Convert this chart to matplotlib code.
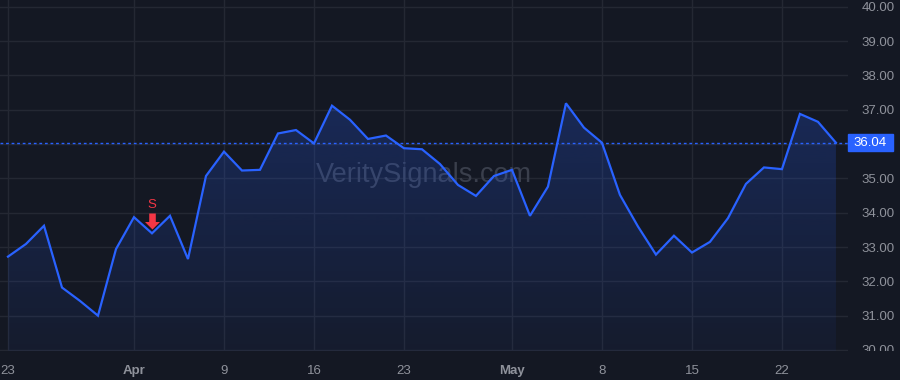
import numpy as np
import pandas as pd
import matplotlib
matplotlib.use("Agg")
import matplotlib.pyplot as plt
from matplotlib.path import Path
import matplotlib.transforms as mtransforms

# daily closes, 23 Mar -> 28 May (trading days)
prices = [32.72, 33.09, 33.62, 31.82, 31.43, 31.00, 32.94, 33.87, 33.40, 33.91,
          32.65, 35.07, 35.78, 35.23, 35.25, 36.31, 36.41, 36.02, 37.12, 36.71,
          36.15, 36.25, 35.88, 35.85, 35.42, 34.81, 34.49, 35.07, 35.25, 33.91,
          34.76, 37.19, 36.48, 36.04, 34.52, 33.60, 32.78, 33.33, 32.84, 33.15,
          33.84, 34.84, 35.32, 35.27, 36.88, 36.65, 36.04]
holidays = ["2026-04-03", "2026-05-25"]
dates = pd.bdate_range("2026-03-23", "2026-05-29")
dates = dates[~dates.isin(pd.to_datetime(holidays))][:len(prices)]

tick_dates = ["2026-03-23", "2026-04-01", "2026-04-09", "2026-04-16", "2026-04-23",
              "2026-05-01", "2026-05-08", "2026-05-15", "2026-05-22"]
tick_labels = ["23", "Apr", "9", "16", "23", "May", "8", "15", "22"]
bold_labels = ["Apr", "May"]
price_ticks = [30, 31, 32, 33, 34, 35, 36, 37, 38, 39, 40]
signal_date = "2026-04-02"
signal_text = "S"
last_price = prices[-1]

BG = "#141823"
GRID = "#242833"
BLUE = "#2962ff"
RED = "#f23645"
TXT = "#8f929b"

plt.rcParams["font.family"] = ["Liberation Sans", "DejaVu Sans"]

x = np.arange(len(prices))
pos = {d: i for i, d in enumerate(dates.strftime("%Y-%m-%d"))}

fig = plt.figure(figsize=(9, 3.8), dpi=100, facecolor=BG)
ax = fig.add_axes([0, 29 / 380, 848 / 900, 351 / 380], facecolor=BG)

ax.set_xlim(-0.444, 46.67)
ax.set_ylim(29.97, 40.2)

# watermark
ax.text(0.5, 0.5, "VeritySignals.com", transform=ax.transAxes, ha="center",
        va="center", fontsize=19.5, color="#3a3f4c", zorder=1)

# gradient area under the line
poly = ax.fill_between(x, prices, 29.97, color="none", lw=0)
grad = np.linspace(0.05, 0.24, 256).reshape(-1, 1)
rgba = np.zeros((256, 1, 4))
rgba[..., 0] = 41 / 255
rgba[..., 1] = 98 / 255
rgba[..., 2] = 1.0
rgba[..., 3] = grad
img = ax.imshow(rgba, extent=[x[0], x[-1], 29.97, 37.3], origin="lower",
                aspect="auto", zorder=2)
img.set_clip_path(poly.get_paths()[0], transform=ax.transData)

ax.plot(x, prices, color=BLUE, lw=1.6, zorder=4, solid_joinstyle="miter")
ax.axhline(last_price, color=BLUE, lw=1, ls=(0, (2, 2)), zorder=3)

# sell signal arrow
arrow = Path([(0, 4), (-7.5, 11.5), (-3.3, 11.5), (-3.3, 20), (3.3, 20),
              (3.3, 11.5), (7.5, 11.5), (0, 4)],
             [Path.MOVETO] + [Path.LINETO] * 6 + [Path.CLOSEPOLY])
si = pos[signal_date]
ax.plot([si], [prices[si]], marker=arrow, ms=28.8, color=RED, mec="none",
        ls="none", zorder=5)
ax.annotate(signal_text, (si, prices[si]), xytext=(0, 28 * 0.72),
            textcoords="offset points", ha="center", va="center",
            color=RED, fontsize=9.5, zorder=5)

# axes styling
for s in ax.spines.values():
    s.set_visible(False)
ax.set_xticks([pos[d] for d in tick_dates])
ax.set_xticklabels(tick_labels)
for lab in ax.get_xticklabels():
    if lab.get_text() in bold_labels:
        lab.set_fontweight("bold")
ax.set_yticks(price_ticks)
# the 36.00 label sits under the last-price tag
ax.set_yticklabels(["" if abs(p - last_price) < 0.3 else f"{p:.2f}"
                    for p in price_ticks])
ax.yaxis.tick_right()
ax.tick_params(axis="both", length=0, colors=TXT, labelsize=9.5)
ax.tick_params(axis="x", pad=10)
ax.tick_params(axis="y", pad=10)
ax.grid(True, color=GRID, lw=1)
ax.set_axisbelow(True)

# last price label
trans = mtransforms.blended_transform_factory(ax.transAxes, ax.transData)
ax.add_patch(plt.Rectangle((1.0, last_price - 0.245), 45 / 848, 0.49,
                           transform=trans, color=BLUE, clip_on=False, zorder=6))
ax.text(1.0 + 22.5 / 848, last_price, f"{last_price:.2f}", transform=trans,
        ha="center", va="center", color="white", fontsize=9.5, zorder=7,
        clip_on=False)

fig.canvas.draw()
# bottom price label is cut by the time scale
for lab in ax.get_yticklabels():
    if lab.get_text() == "30.00":
        lab.set_clip_box(mtransforms.Bbox([[0, 29], [900, 380]]))
        lab.set_clip_on(True)

fig.savefig("out.png", dpi=100, facecolor=BG)
